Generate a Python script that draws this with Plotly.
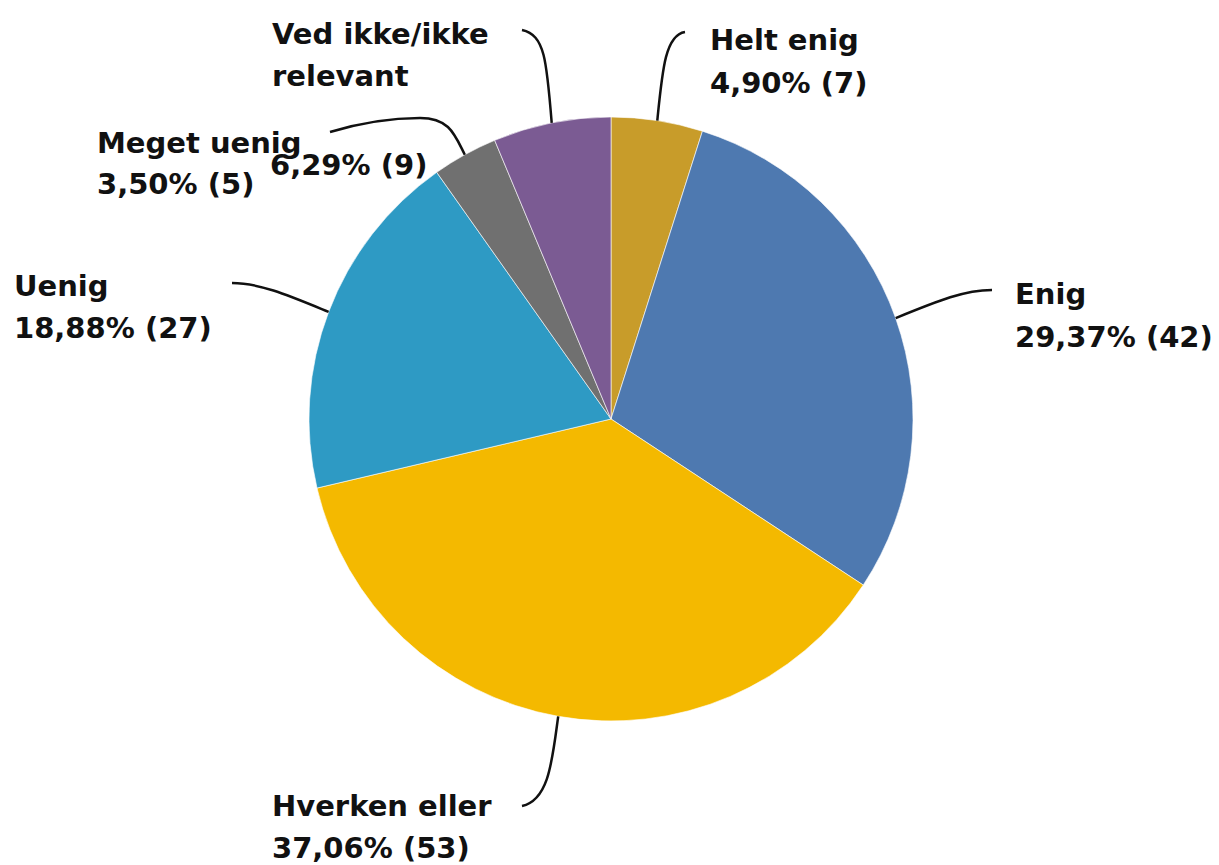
import math
import plotly.graph_objects as go

# ---- data ----
categories = ["Helt enig", "Enig", "Hverken eller", "Uenig", "Meget uenig", "Ved ikke/ikke relevant"]
counts = [7, 42, 53, 27, 5, 9]
percents = [4.90, 29.37, 37.06, 18.88, 3.50, 6.29]
colors = ["#C89C2A", "#4E79B0", "#F4B900", "#2E9AC4", "#707070", "#7B5B93"]

# ---- layout constants (pixel space of the screenshot) ----
W, H = 1219, 865
OFF = 8  # page body margin
CX, CY, R = 611, 419, 302
FONT = dict(family="DejaVu Sans", size=29, color="#111111", weight="bold")

def fmt(p, n):
    return f"{p:.2f}".replace(".", ",") + f"% ({n})"

# label lines: (text, x_left, y_center)
label_lines = [
    [(categories[0], 708, 40), (fmt(percents[0], counts[0]), 708, 83)],
    [(categories[1], 1013, 294), (fmt(percents[1], counts[1]), 1013, 337)],
    [(categories[2], 270, 806), (fmt(percents[2], counts[2]), 270, 848)],
    [(categories[3], 12, 286), (fmt(percents[3], counts[3]), 12, 328)],
    [(categories[4], 95, 143), (fmt(percents[4], counts[4]), 95, 184)],
    [("Ved ikke/ikke", 270, 34), ("relevant", 270, 76), (fmt(percents[5], counts[5]), 268, 165)],
]

leader_paths = [
    lambda x, y: f"M {x} {y} C {x+5} 70, {x+8} 35, 685 32",
    lambda x, y: f"M {x} {y} C {x+44} {y-18}, 965 290, 992 290",
    lambda x, y: f"M {x} {y} C {x-6} 760, {x-9} 800, 522 806",
    lambda x, y: f"M {x} {y} C {x-39} {y-16}, 260 283, 232 283",
    lambda x, y: f"M {x} {y} C {x-10} 135, {x-15} 118, 420 118 C 380 118, 350 126, 330 132",
    lambda x, y: f"M {x} {y} C {x-5} 60, {x-7} 35, 522 30",
]

fig = go.Figure()
fig.add_trace(go.Pie(
    labels=categories, values=counts, sort=False, direction="clockwise", rotation=0,
    marker=dict(colors=colors, line=dict(color="rgba(255,255,255,0.6)", width=1)),
    textinfo="none", hoverinfo="label+value+percent", showlegend=False,
    domain=dict(x=[(CX - R - OFF) / W, (CX + R - OFF) / W],
                y=[1 - (CY + R - OFF) / H, 1 - (CY - R - OFF) / H]),
))
fig.add_trace(go.Scatter(x=[OFF, W + OFF], y=[OFF, H + OFF], mode="markers",
                         marker=dict(opacity=0), hoverinfo="skip", showlegend=False))

total = sum(counts)
cum = 0
shapes = []
annotations = []
for i, c in enumerate(counts):
    mid = (cum + c / 2) / total * 2 * math.pi
    cum += c
    ax = round(CX + R * math.sin(mid), 1)
    ay = round(CY - R * math.cos(mid), 1)
    shapes.append(dict(type="path", xref="x", yref="y", path=leader_paths[i](ax, ay),
                       line=dict(color="#111111", width=2.5)))
    for txt, lx, ly in label_lines[i]:
        annotations.append(dict(text=txt, x=lx, y=ly, xref="x", yref="y", xanchor="left",
                                yanchor="middle", showarrow=False, font=FONT))

fig.update_layout(
    width=W, height=H, margin=dict(l=0, r=0, t=0, b=0),
    paper_bgcolor="white", plot_bgcolor="rgba(0,0,0,0)",
    xaxis=dict(range=[OFF, W + OFF], visible=False, fixedrange=True),
    yaxis=dict(range=[H + OFF, OFF], visible=False, fixedrange=True),
    shapes=shapes, annotations=annotations,
)
fig.write_html("out.html")
